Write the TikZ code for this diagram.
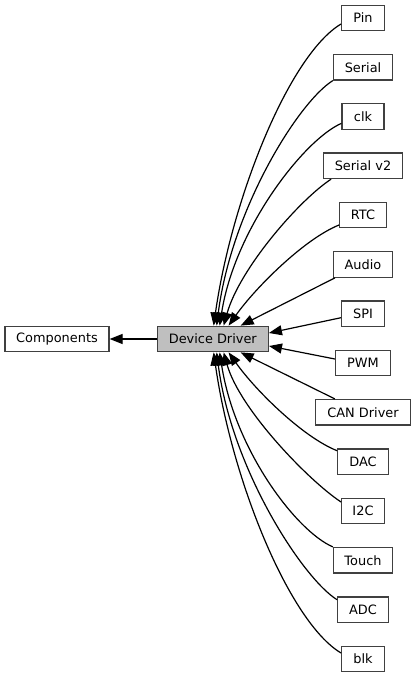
\documentclass[tikz,border=0pt]{standalone}
\usepackage{fontspec}
\setmainfont{DejaVu Sans}
\usetikzlibrary{arrows.meta}
\definecolor{bordergray}{RGB}{64,64,64}
\definecolor{ddfill}{RGB}{191,191,191}
\tikzset{
  box/.style={draw=bordergray, line width=1.3pt, fill=white, minimum height=25.5pt, inner sep=0pt,
    font=\fontsize{12.9}{15}\selectfont, anchor=center},
  edge/.style={draw=black, line width=1.2pt, -{Triangle[length=13pt,width=10pt]}},
}
\begin{document}
\begin{tikzpicture}[x=1pt,y=-1pt]
\useasboundingbox (0,0) rectangle (416,677);
\node[box, minimum width=104pt] (comp) at (57,339) {Components};
\node[box, minimum width=111pt, fill=ddfill] (dd) at (212.8,339) {Device Driver};
\node[box, minimum width=42.6pt] (pin) at (363,18) {Pin};
\node[box, minimum width=59pt] (serial) at (363,67.2) {Serial};
\node[box, minimum width=42pt] (clk) at (363,116.4) {clk};
\node[box, minimum width=78.6pt] (sv2) at (363,165.8) {Serial v2};
\node[box, minimum width=46.6pt] (rtc) at (363,215) {RTC};
\node[box, minimum width=59pt] (audio) at (363,264.5) {Audio};
\node[box, minimum width=42.6pt] (spi) at (363,313.7) {SPI};
\node[box, minimum width=55pt] (pwm) at (363,363) {PWM};
\node[box, minimum width=95pt] (can) at (363,412.3) {CAN Driver};
\node[box, minimum width=50.6pt] (dac) at (363,461.7) {DAC};
\node[box, minimum width=42.6pt] (i2c) at (363,511) {I2C};
\node[box, minimum width=59pt] (touch) at (363,560.3) {Touch};
\node[box, minimum width=50.6pt] (adc) at (363,609.7) {ADC};
\node[box, minimum width=42.6pt] (blk) at (363,659) {blk};

\draw[edge] (dd.west) -- (comp.east);

\draw[edge] ([yshift=-6pt]pin.west) .. controls +(-52,31) and +(18,-127) .. ([xshift=57pt]dd.north west);
\draw[edge] (serial.south west) .. controls +(-34,21) and +(15,-117) .. ([xshift=60pt]dd.north west);
\draw[edge] ([yshift=-7pt]clk.west) .. controls +(-37,16) and +(15,-97) .. ([xshift=63pt]dd.north west);
\draw[edge] ([xshift=8pt]sv2.south west) .. controls +(-32,21) and +(16,-57) .. ([xshift=67pt]dd.north west);
\draw[edge] ([yshift=-10pt]rtc.west) .. controls +(-35,14) and +(26,-37) .. ([xshift=72pt]dd.north west);
\draw[edge] ([xshift=2pt]audio.south west) -- ([xshift=84pt]dd.north west);
\draw[edge] ([yshift=-4pt]spi.west) -- ([yshift=6pt]dd.east);
\draw[edge] ([yshift=4pt]pwm.west) -- ([yshift=-7pt]dd.east);
\draw[edge] ([xshift=20pt]can.north west) -- ([xshift=84pt]dd.south west);
\draw[edge] ([yshift=11pt]dac.west) .. controls +(-35,-14) and +(26,37) .. ([xshift=72pt]dd.south west);
\draw[edge] ([yshift=9pt]i2c.west) .. controls +(-32,-21) and +(16,57) .. ([xshift=67pt]dd.south west);
\draw[edge] (touch.north west) .. controls +(-37,-16) and +(15,97) .. ([xshift=63pt]dd.south west);
\draw[edge] ([yshift=10pt]adc.west) .. controls +(-34,-21) and +(15,117) .. ([xshift=60pt]dd.south west);
\draw[edge] ([yshift=6pt]blk.west) .. controls +(-52,-31) and +(18,127) .. ([xshift=57pt]dd.south west);
\end{tikzpicture}
\end{document}
